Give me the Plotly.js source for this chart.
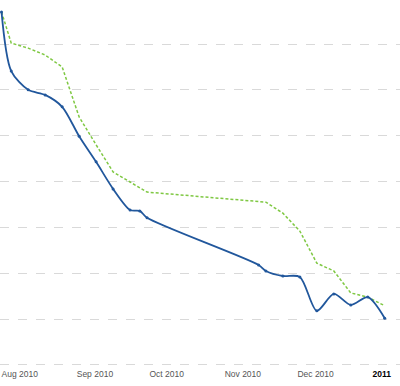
<!DOCTYPE html>
<html>
<head>
<meta charset="utf-8">
<script src="https://cdn.plot.ly/plotly-3.0.1.min.js"></script>
<style>html,body{margin:0;padding:0;background:#fff;}#chart{width:400px;height:386px;}</style>
</head>
<body>
<div id="chart"></div>
<script>
// Blue (solid) series
const blueDates = ['2010-08-01','2010-08-05','2010-08-12','2010-08-19','2010-08-26','2010-09-02','2010-09-09','2010-09-16','2010-09-23','2010-09-27','2010-09-30','2010-11-15','2010-11-18','2010-11-25','2010-12-02','2010-12-09','2010-12-16','2010-12-23','2010-12-30','2011-01-06'];
const blueValues = [77.0,64.1,60.0,58.9,56.3,49.9,44.3,38.4,33.8,33.6,32.1,21.8,20.5,19.4,19.2,11.8,15.5,13.1,14.8,10.2];
// Green (dashed) series
const greenDates = ['2010-08-01','2010-08-05','2010-08-12','2010-08-19','2010-08-26','2010-09-02','2010-09-09','2010-09-16','2010-09-23','2010-09-30','2010-11-18','2010-11-25','2010-12-02','2010-12-09','2010-12-16','2010-12-23','2010-12-30','2011-01-06'];
const greenValues = [77.0,70.2,69.1,67.6,65.0,54.1,48.0,42.1,39.9,37.7,35.5,33.1,29.2,22.2,20.5,15.7,14.8,12.9];
// Axis ticks
const tickDates = ['2010-08-01','2010-09-01','2010-10-01','2010-11-01','2010-12-01','2011-01-01'];
const tickLabels = ['Aug 2010','Sep 2010','Oct 2010','Nov 2010','Dec 2010','<b style="color:#000">2011</b>'];

const traces = [
  {x: greenDates, y: greenValues, type: 'scatter', mode: 'lines',
   line: {color: '#7fc843', width: 1.5, dash: '3px,2px'}, hoverinfo: 'skip'},
  {x: blueDates, y: blueValues, type: 'scatter', mode: 'lines+markers',
   line: {color: '#21579c', width: 1.8, shape: 'spline', smoothing: 0.8},
   marker: {color: '#21579c', size: 3}, hoverinfo: 'skip'}
];

const layout = {
  width: 400, height: 386,
  margin: {l: 0, r: 0, t: 0, b: 19, pad: 0},
  paper_bgcolor: '#fff', plot_bgcolor: '#fff',
  showlegend: false,
  xaxis: {
    type: 'date',
    range: ['2010-07-31 09:00', '2011-01-12 07:00'],
    tickvals: tickDates, ticktext: tickLabels,
    ticklabelposition: 'outside right',
    showgrid: false, zeroline: false, showline: false, ticks: '',
    tickfont: {family: 'Liberation Sans, Arial, sans-serif', size: 8.5, color: '#555'}
  },
  yaxis: {
    range: [-0.45, 79.6], dtick: 10, tick0: 0,
    showticklabels: false, zeroline: false, showline: false, ticks: '',
    showgrid: true, gridcolor: '#d9d9d9', griddash: 'dash', gridwidth: 1
  }
};

Plotly.newPlot('chart', traces, layout, {staticPlot: true, displayModeBar: false});
</script>
</body>
</html>
